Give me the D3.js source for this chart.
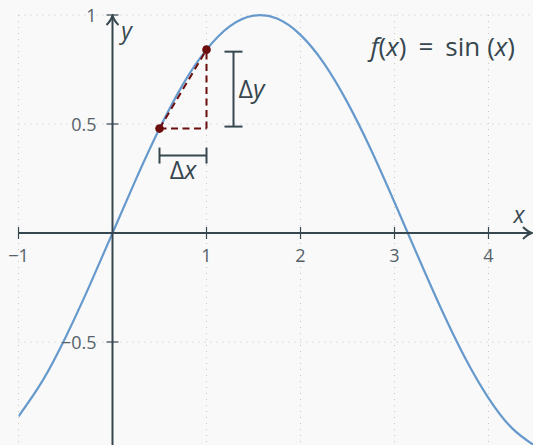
<!DOCTYPE html>
<html><head><meta charset="utf-8">
<script src="https://cdn.jsdelivr.net/npm/d3@7"></script>
<style>
html,body{margin:0;padding:0;background:#f9f9f9;}
svg{display:block;}
text{font-family:"Open Sans","Noto Sans",sans-serif;}
</style></head>
<body>
<svg id="c" width="533" height="445"></svg>
<script>
// Data
const curveX = [-1,-0.75,-0.5,-0.25,0,0.25,0.5,0.75,1,1.25,1.5,1.75,2,2.25,2.5,2.75,3,3.25,3.5,3.75,4,4.25,4.5];
const curveY = [-0.841,-0.682,-0.479,-0.247,0,0.247,0.479,0.682,0.841,0.949,0.997,0.984,0.909,0.778,0.598,0.382,0.141,-0.108,-0.351,-0.572,-0.757,-0.895,-0.978];
const xTicks = [-1,1,2,3,4];
const xTickLabels = ["\u22121","1","2","3","4"];
const yTicks = [-0.5,0.5,1];
const yTickLabels = ["\u22120.5","0.5","1"];
const pointX = [0.5,1];
const pointY = [0.479,0.841];

const W=533,H=445;
const svg=d3.select("#c");
const x=d3.scaleLinear().domain([-1,4]).range([18.5,488.5]);
const y=d3.scaleLinear().domain([-0.5,1]).range([342,15]);
const axisCol="#37474f", textCol="#56626a", gridCol="#c8c8c8";
const curveCol="#6699cc", ptCol="#6b0d0d";

svg.append("rect").attr("width",W).attr("height",H).attr("fill","#f9f9f9");

// grid
const g=svg.append("g");
g.selectAll(".gx").data(xTicks).join("line")
 .attr("x1",d=>x(d)).attr("x2",d=>x(d)).attr("y1",y(1)).attr("y2",H)
 .attr("stroke",gridCol).attr("stroke-width",1).attr("stroke-dasharray","1,5");
g.selectAll(".gy").data(yTicks).join("line")
 .attr("x1",x(-1)).attr("x2",W).attr("y1",d=>y(d)).attr("y2",d=>y(d))
 .attr("stroke",gridCol).attr("stroke-width",1).attr("stroke-dasharray","1,5");

// clip
svg.append("clipPath").attr("id","clip").append("rect")
 .attr("x",x(-1)).attr("y",0).attr("width",W-x(-1)).attr("height",H);

// curve
const pts=curveX.map((d,i)=>[d,curveY[i]]);
svg.append("path").datum(pts).attr("clip-path","url(#clip)")
 .attr("d",d3.line().x(d=>x(d[0])).y(d=>y(d[1])).curve(d3.curveNatural))
 .attr("fill","none").attr("stroke",curveCol).attr("stroke-width",2.2);

// axes
const ax=svg.append("g");
ax.append("line").attr("x1",x(-1)).attr("x2",W-2).attr("y1",y(0)).attr("y2",y(0))
 .attr("stroke",axisCol).attr("stroke-width",2);
ax.append("line").attr("x1",x(0)).attr("x2",x(0)).attr("y1",H).attr("y2",y(1)+1)
 .attr("stroke",axisCol).attr("stroke-width",2);
// arrowheads
const ay=y(0), axx=x(0);
ax.append("path").attr("d",`M${W-10},${ay-6} Q${W-5},${ay-1} ${W-1},${ay} Q${W-5},${ay+1} ${W-10},${ay+6}`)
 .attr("fill","none").attr("stroke",axisCol).attr("stroke-width",2).attr("stroke-linejoin","round");
ax.append("path").attr("d",`M${axx-6},${y(1)+10} Q${axx-1},${y(1)+5} ${axx},${y(1)} Q${axx+1},${y(1)+5} ${axx+6},${y(1)+10}`)
 .attr("fill","none").attr("stroke",axisCol).attr("stroke-width",2).attr("stroke-linejoin","round");
// ticks
ax.selectAll(".tx").data(xTicks).join("line")
 .attr("x1",d=>x(d)).attr("x2",d=>x(d)).attr("y1",ay-6).attr("y2",ay+6)
 .attr("stroke",axisCol).attr("stroke-width",1.2);
ax.selectAll(".ty").data(yTicks).join("line")
 .attr("x1",axx-6).attr("x2",axx+6).attr("y1",d=>y(d)).attr("y2",d=>y(d))
 .attr("stroke",axisCol).attr("stroke-width",1.2);
// tick labels
ax.selectAll(".lx").data(xTicks).join("text")
 .attr("x",d=>x(d)).attr("y",ay+29).attr("text-anchor","middle")
 .attr("font-size",18).attr("fill",textCol).text((d,i)=>xTickLabels[i]);
ax.selectAll(".ly").data(yTicks).join("text")
 .attr("x",axx-16).attr("y",d=>y(d)+7).attr("text-anchor","end")
 .attr("font-size",18).attr("fill",textCol).text((d,i)=>yTickLabels[i]);
// axis labels
svg.append("text").attr("x",519).attr("y",y(0)-10).attr("text-anchor","middle")
 .attr("font-size",23).attr("font-style","italic").attr("fill",axisCol).text("x");
svg.append("text").attr("x",x(0)+14).attr("y",y(1)+24).attr("text-anchor","middle")
 .attr("font-size",23).attr("font-style","italic").attr("fill",axisCol).text("y");

// secant triangle
const P1=[x(pointX[0]),y(pointY[0])], P2=[x(pointX[1]),y(pointY[1])];
const tri=svg.append("g").attr("stroke",ptCol).attr("stroke-width",2).attr("stroke-dasharray","7,4.5").attr("fill","none");
tri.append("line").attr("x1",P1[0]).attr("y1",P1[1]).attr("x2",P2[0]).attr("y2",P2[1]);
tri.append("line").attr("x1",P1[0]).attr("y1",P1[1]).attr("x2",P2[0]).attr("y2",P1[1]);
tri.append("line").attr("x1",P2[0]).attr("y1",P1[1]).attr("x2",P2[0]).attr("y2",P2[1]);
svg.selectAll(".pt").data(pointX).join("circle")
 .attr("cx",d=>x(d)).attr("cy",(d,i)=>y(pointY[i])).attr("r",4.3).attr("fill",ptCol);

// brackets
const br=svg.append("g").attr("stroke",axisCol).attr("stroke-width",2).attr("fill","none");
const bxY=P1[1]+27;
br.append("line").attr("x1",P1[0]).attr("x2",P2[0]).attr("y1",bxY).attr("y2",bxY);
br.append("line").attr("x1",P1[0]).attr("x2",P1[0]).attr("y1",bxY-8).attr("y2",bxY+8);
br.append("line").attr("x1",P2[0]).attr("x2",P2[0]).attr("y1",bxY-8).attr("y2",bxY+8);
const byX=P2[0]+27;
br.append("line").attr("x1",byX).attr("x2",byX).attr("y1",P2[1]+2).attr("y2",P1[1]-2);
br.append("line").attr("x1",byX-9).attr("x2",byX+9).attr("y1",P2[1]+2).attr("y2",P2[1]+2);
br.append("line").attr("x1",byX-9).attr("x2",byX+9).attr("y1",P1[1]-2).attr("y2",P1[1]-2);

const dx=svg.append("text").attr("x",(P1[0]+P2[0])/2).attr("y",bxY+23).attr("text-anchor","middle")
 .attr("font-size",25).attr("fill",axisCol);
dx.append("tspan").text("\u0394");
dx.append("tspan").attr("font-style","italic").text("x");
const dy=svg.append("text").attr("x",byX+5).attr("y",(P1[1]+P2[1])/2+9).attr("text-anchor","start")
 .attr("font-size",25).attr("fill",axisCol);
dy.append("tspan").text("\u0394");
dy.append("tspan").attr("font-style","italic").text("y");

// title
const t=svg.append("text").attr("x",515).attr("y",56).attr("text-anchor","end")
 .attr("font-size",26).attr("fill",axisCol);
t.append("tspan").attr("font-style","italic").text("f");
t.append("tspan").text("(");
t.append("tspan").attr("font-style","italic").text("x");
t.append("tspan").text(")");
t.append("tspan").attr("dx",12).text("=");
t.append("tspan").attr("dx",12).text("sin");
t.append("tspan").attr("dx",7).text("(");
t.append("tspan").attr("font-style","italic").text("x");
t.append("tspan").text(")");
</script>
</body></html>
